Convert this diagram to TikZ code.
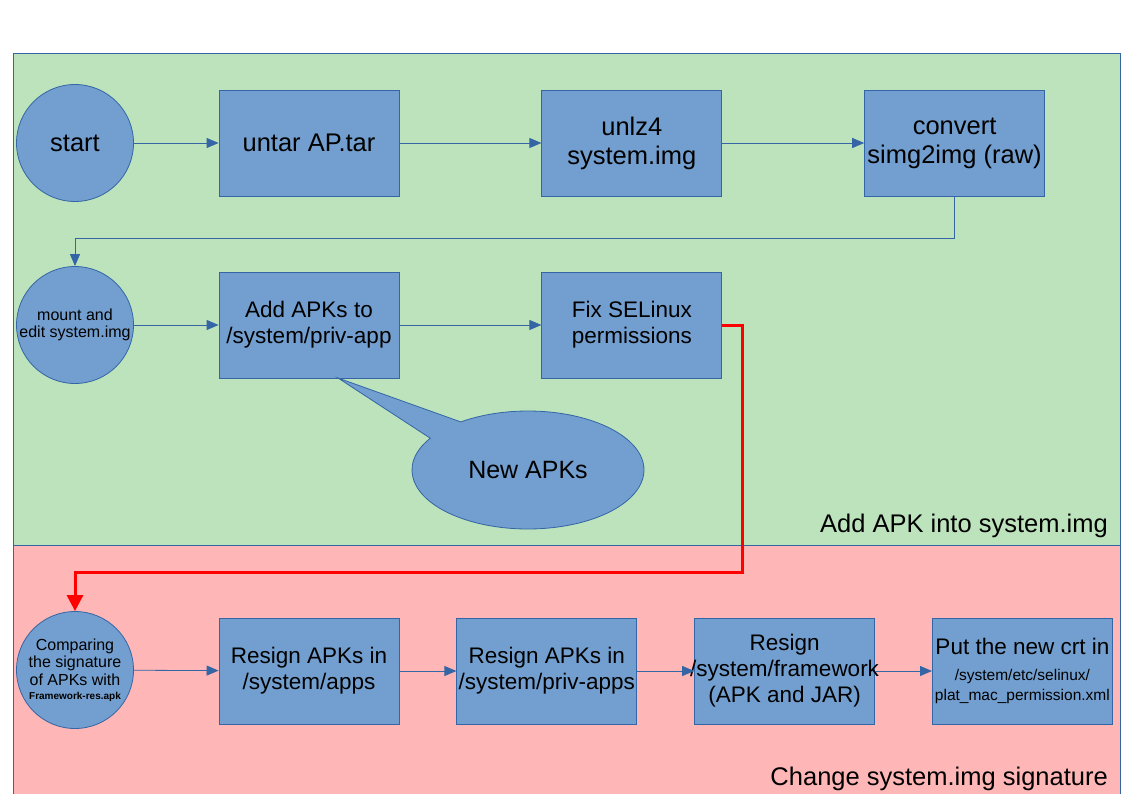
\documentclass[tikz,border=0pt]{standalone}
\usepackage{fontspec}
\setmainfont{Liberation Sans}
\usepackage{tikz}
\usetikzlibrary{shapes, shapes.callouts, arrows.meta, positioning}
\definecolor{boxblue}{RGB}{114,159,207}
\definecolor{edgeblue}{RGB}{52,101,164}
\definecolor{panelgreen}{RGB}{189,227,189}
\definecolor{panelred}{RGB}{255,182,182}
\tikzset{
    process/.style={rectangle, draw=edgeblue, line width=0.8pt, fill=boxblue, align=center, minimum width=180pt, minimum height=106pt, inner sep=0pt, font=\fontsize{22.5}{26}\selectfont},
    bigprocess/.style={process, font=\fontsize{25.5}{29}\selectfont},
    terminal/.style={circle, draw=edgeblue, line width=0.8pt, fill=boxblue, align=center, minimum size=117pt, inner sep=0pt, font=\fontsize{16}{17.5}\selectfont},
    panel/.style={draw=edgeblue, line width=0.8pt},
    note/.style={ellipse callout, draw=edgeblue, line width=0.8pt, fill=boxblue, minimum width=232pt, minimum height=118pt, callout pointer arc=22, font=\fontsize{25}{29}\selectfont},
    title/.style={anchor=base east, inner sep=0pt, font=\fontsize{25.5}{29}\selectfont},
    arrow/.style={edgeblue, line width=0.8pt, -{Triangle[length=12pt, width=10pt]}},
    redarrow/.style={red, line width=3pt, -{Triangle[length=16pt, width=16pt]}}
}
\begin{document}
\begin{tikzpicture}[x=1pt, y=-1pt, node distance=142pt]
    \useasboundingbox (0,0) rectangle (1123,794);

    % Panels
    \path[panel, fill=panelgreen] (13,53) rectangle (1120,545);
    \path[panel, fill=panelred] (13,545) rectangle (1120,800);
    \node (GreenTitle) [title] at (1108,532) {Add APK into system.img};
    \node (RedTitle) [title] at (1108,785) {Change system.img signature};

    % Row 1
    \node (Start) [terminal, font=\fontsize{25.5}{29}\selectfont] at (75,143) {start};
    \node (Untar) [bigprocess] at (309,143) {untar AP.tar};
    \node (Unlz) [bigprocess, right=of Untar] {unlz4\\system.img};
    \node (Convert) [bigprocess, right=of Unlz] {convert\\simg2img (raw)};

    \draw[arrow] (Start) -- (Untar);
    \draw[arrow] (Untar) -- (Unlz);
    \draw[arrow] (Unlz) -- (Convert);

    % Row 2
    \node (Mount) [terminal] at (75,325) {mount and\\edit system.img};
    \node (AddApks) [process] at (309,325) {Add APKs to\\/system/priv-app};
    \node (FixSe) [process, right=of AddApks] {Fix SELinux\\permissions};

    \draw[arrow] (Convert.south) -- ++(0,42) -| (Mount.north);
    \draw[arrow] (Mount) -- (AddApks);
    \draw[arrow] (AddApks) -- (FixSe);

    % Callout
    \node (NewApks) [note, callout absolute pointer={(338,378)}] at (528,470) {New APKs};

    % Row 3
    \node (Compare) [terminal] at (75,670) {Comparing\\the signature\\of APKs with\\[-3pt]{\fontsize{10}{12}\selectfont\bfseries Framework-res.apk}};
    \node (ResignApps) [process] at (309,671) {Resign APKs in\\/system/apps};
    \node (ResignPriv) [process, right=57pt of ResignApps] {Resign APKs in\\/system/priv-apps};
    \node (ResignFw) [process, right=57pt of ResignPriv] {Resign\\\makebox[180pt]{/system/framework}\\(APK and JAR)};
    \node (PutCrt) [process, right=57pt of ResignFw] {Put the new crt in\\{\fontsize{15.5}{17.5}\selectfont /system/etc/selinux/}\\[-6pt]{\fontsize{15.5}{17.5}\selectfont plat\_mac\_permission.xml}};

    \draw[redarrow] (FixSe.east) -- ++(20,0) -- ++(0,247) -| (Compare.north);
    \draw[arrow] (Compare) -- (ResignApps);
    \draw[arrow] (ResignApps) -- (ResignPriv);
    \draw[arrow] (ResignPriv) -- (ResignFw);
    \draw[arrow] (ResignFw) -- (PutCrt);
\end{tikzpicture}
\end{document}
